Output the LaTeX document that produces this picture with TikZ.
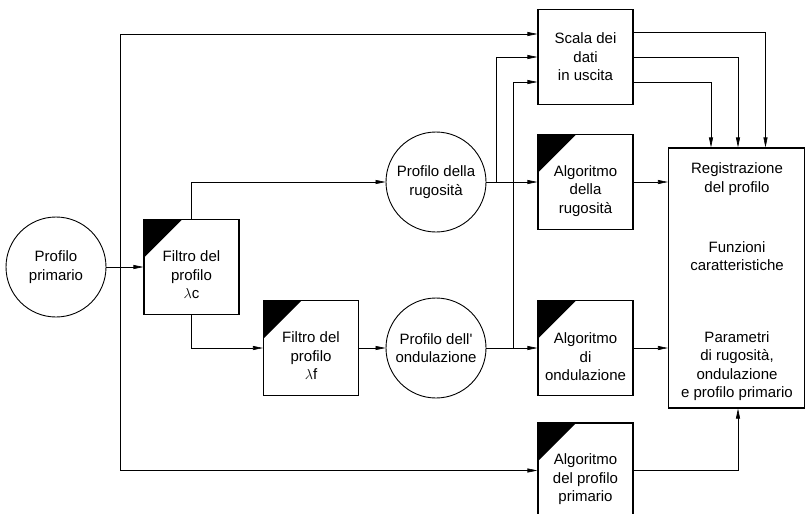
\documentclass[tikz,border=0pt]{standalone}
\usepackage{fontspec}
\setmainfont{Liberation Sans}
\usetikzlibrary{arrows.meta}

\tikzset{
  txt/.style={align=center,font=\fontsize{15}{18.5}\selectfont},
  blk/.style={draw,line width=1.1pt,minimum width=95pt,minimum height=95pt,inner sep=0pt},
  algbox/.style={blk,path picture={\fill (path picture bounding box.north west) -- ++(38pt,0pt) -- ++(-38pt,-38pt) -- cycle;}},
  ring/.style={draw,circle,line width=0.9pt,minimum size=100pt,inner sep=0pt,txt},
  arr/.style={line width=0.6pt,-{Triangle[length=10pt,width=4pt]}},
}

\begin{document}
\begin{tikzpicture}[x=1pt,y=-1pt]
\useasboundingbox (0,0) rectangle (806,514);
% profili
\node[ring] (prim) at (56,267) {Profilo\\primario};
\node[ring] (rug) at (436,182) {Profilo della\\rugosit\`a};
\node[ring] (ond) at (436,348) {Profilo dell\textquotesingle\\ondulazione};
% filtri
\node[algbox] (fc) at (191.5,267) {};
\node[txt] (fc-t) at ([yshift=-8pt]fc.center) {Filtro del\\profilo\\$\lambda$c};
\node[algbox] (ff) at (311,348) {};
\node[txt] (ff-t) at ([yshift=-8pt]ff.center) {Filtro del\\profilo\\$\lambda$f};
% algoritmi
\node[blk,txt] (scala) at (585.5,57) {Scala dei\\dati\\in uscita};
\node[algbox] (arug) at (585.5,182) {};
\node[txt] (arug-t) at ([yshift=-9pt]arug.center) {Algoritmo\\della\\rugosit\`a};
\node[algbox] (aond) at (585.5,348) {};
\node[txt] (aond-t) at ([yshift=-9pt]aond.center) {Algoritmo\\di\\ondulazione};
\node[algbox] (aprim) at (585.5,470.5) {};
\node[txt] (aprim-t) at ([yshift=-9pt]aprim.center) {Algoritmo\\del profilo\\primario};
% registrazione
\node[draw,line width=1.1pt,minimum width=136pt,minimum height=260pt] (reg) at (736.5,278) {};
\node[txt] (reg-a) at (737,179) {Registrazione\\del profilo};
\node[txt] (reg-b) at (737,256) {Funzioni\\caratteristiche};
\node[txt] (reg-c) at (737,366) {Parametri\\di rugosit\`a,\\ondulazione\\e profilo primario};

% punti di diramazione
\coordinate (jp) at (120,267);
\coordinate (jr) at (496,182);
\coordinate (jo) at (513,348);
\coordinate (s1) at ([yshift=23pt]scala.west);
\coordinate (s3) at ([yshift=-25pt]scala.west);
\coordinate (so1) at ([yshift=25pt]scala.east);
\coordinate (so3) at ([yshift=-25pt]scala.east);
\coordinate (t1) at ([xshift=-25.5pt]reg.north);
\coordinate (t2) at ([xshift=1.5pt]reg.north);
\coordinate (t3) at ([xshift=29pt]reg.north);
\coordinate (b2) at ([xshift=1.5pt]reg.south);

% collegamenti
\draw[arr] (prim) -- (fc);
\draw[arr] (jp) |- (s1);
\draw[arr] (jp) |- (aprim.west);
\draw[arr] (fc.north) |- (rug);
\draw[arr] (fc.south) |- (ff);
\draw[arr] (ff) -- (ond);
\draw[arr] (ond) -- (aond);
\draw[arr] (rug) -- (arug);
\draw[arr] (jr) |- (scala);
\draw[arr] (jo) |- (s3);
\draw[arr] (arug) -- (arug -| reg.west);
\draw[arr] (aond) -- (aond -| reg.west);
\draw[arr] (aprim) -| (b2);
\draw[arr] (so1) -| (t3);
\draw[arr] (scala) -| (t2);
\draw[arr] (so3) -| (t1);
\end{tikzpicture}
\end{document}
